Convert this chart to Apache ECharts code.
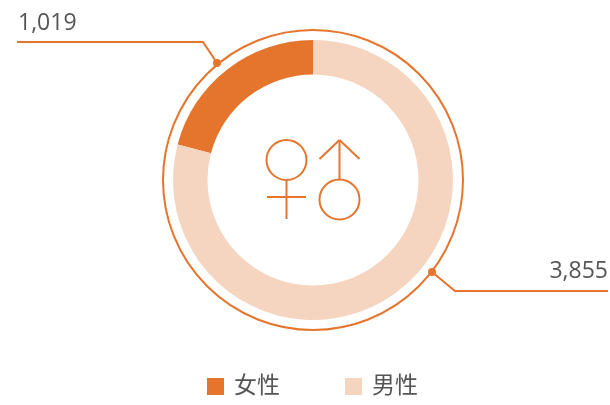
<!DOCTYPE html>
<html><head><meta charset="utf-8">
<style>html,body{margin:0;padding:0;background:#fff}#c{width:610px;height:405px}</style>
<script src="https://cdn.jsdelivr.net/npm/echarts@6/dist/echarts.min.js"></script>
</head><body><div id="c"></div>
<script>
const categories = ['女性', '男性'];
const values = [1019, 3855];
const colors = ['#E5752D', '#F6D5C0'];
const accent = '#E5752D';
const textColor = '#555555';
const fontFamily = '"Open Sans","Noto Sans CJK SC",sans-serif';

const labelSpots = [
  { x: 18, y: 23, align: 'left', line: [[217, 63], [203, 42], [17, 42]] },
  { x: 608, y: 271, align: 'right', line: [[432, 272], [455, 291], [608, 291]] }
];

const chart = echarts.init(document.getElementById('c'), null, { renderer: 'canvas' });
const stroke = { stroke: accent, lineWidth: 2, fill: 'none' };
const shapeLine = (x1, y1, x2, y2) => ({ type: 'line', shape: { x1, y1, x2, y2 }, style: stroke, z: 10 });
const shapeCircle = (cx, cy, r, s) => ({ type: 'circle', shape: { cx, cy, r }, style: s, z: 10 });

chart.setOption({
  animation: false,
  backgroundColor: '#fff',
  color: colors,
  legend: {
    data: categories, left: 202, top: 370, icon: 'rect',
    itemWidth: 17, itemHeight: 17, itemGap: 65,
    textStyle: { color: textColor, fontSize: 23, fontFamily, padding: [0, 0, 0, 5] }
  },
  series: [{
    type: 'pie',
    center: [313, 180],
    radius: [105.5, 140],
    startAngle: 90,
    clockwise: false,
    avoidLabelOverlap: false,
    silent: true,
    data: categories.map((name, i) => ({ name, value: values[i] })),
    label: {
      show: true, position: 'outer', color: textColor, fontSize: 23, fontFamily,
      formatter: p => p.value.toLocaleString('en-US')
    },
    labelLine: { show: true, lineStyle: { color: accent, width: 2 } },
    labelLayout: p => {
      const s = labelSpots[p.dataIndex];
      return { x: s.x, y: s.y, align: s.align, verticalAlign: 'middle', labelLinePoints: s.line };
    }
  }],
  graphic: [
    shapeCircle(313, 180, 150, stroke),
    shapeCircle(217, 63, 4, { fill: accent }),
    shapeCircle(432, 272, 4, { fill: accent }),
    shapeCircle(286.5, 160, 20, stroke),
    shapeLine(286.5, 180, 286.5, 219),
    shapeLine(267, 197, 306, 197),
    shapeCircle(339.5, 199.5, 20, stroke),
    shapeLine(339.5, 180, 339.5, 140),
    shapeLine(319.5, 159, 339.5, 140),
    shapeLine(359.5, 159, 339.5, 140)
  ]
});
</script></body></html>
